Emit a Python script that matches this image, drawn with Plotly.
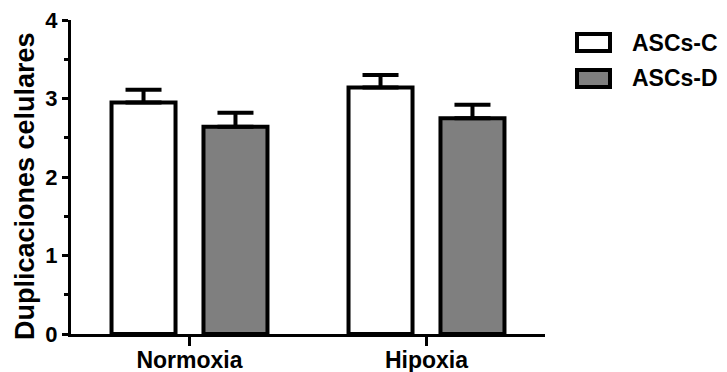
import plotly.graph_objects as go

# Data
categories = ["Normoxia", "Hipoxia"]
series_names = ["ASCs-C", "ASCs-D"]
ascs_c = [2.95, 3.14]
ascs_c_err = [0.16, 0.16]
ascs_d = [2.64, 2.75]
ascs_d_err = [0.18, 0.17]
y_ticks = [0, 1, 2, 3, 4]

FONT = "Liberation Sans, Arial, sans-serif"
fills = ["#ffffff", "#7f7f7f"]

fig = go.Figure()
for name, vals, errs, fill in zip(series_names, [ascs_c, ascs_d], [ascs_c_err, ascs_d_err], fills):
    fig.add_trace(go.Bar(
        x=categories, y=vals, name=name,
        marker=dict(color=fill, line=dict(color="black", width=4)),
        error_y=dict(type="data", array=errs, arrayminus=[0] * len(errs), symmetric=False,
                     color="black", thickness=4, width=18),
        showlegend=False,
    ))

L, R, T, B = 71, 182, 20, 38
W, H = 727, 372
pw, ph = W - L - R, H - T - B

def px_x(p):
    return (p - L) / pw

def px_y(p):
    return (H - B - p) / ph

fig.update_layout(
    width=W, height=H,
    autosize=False,
    margin=dict(l=L, r=R, t=T, b=B, pad=0, autoexpand=False),
    paper_bgcolor="white", plot_bgcolor="white",
    barmode="group", bargap=0.224, bargroupgap=0.304,
    font=dict(family=FONT, color="black"),
    xaxis=dict(
        range=[-0.5, 1.5], showline=True, linecolor="black", linewidth=3,
        ticks="outside", ticklen=9, tickwidth=3, tickcolor="black",
        ticklabelstandoff=-6,
        tickfont=dict(family=FONT, size=23, color="black", weight="bold"),
        showgrid=False, zeroline=False, automargin=False,
    ),
    yaxis=dict(
        range=[0, 4], tickvals=y_ticks, showline=True, linecolor="black", linewidth=3,
        ticks="outside", ticklen=6, tickwidth=3, tickcolor="black",
        tickfont=dict(family=FONT, size=22, color="black", weight="bold"),
        minor=dict(dtick=0.5, ticks="outside", ticklen=4, tickwidth=3, tickcolor="black", showgrid=False),
        showgrid=False, zeroline=False, automargin=False,
    ),
    showlegend=False,
)

# Y-axis title
fig.add_annotation(
    text="Duplicaciones celulares", xref="paper", yref="paper",
    x=px_x(25), y=px_y(186), xanchor="center", yanchor="middle",
    textangle=-90, showarrow=False,
    font=dict(family=FONT, size=27, color="black", weight="bold"),
)

# Custom legend
legend_boxes = [(34, 51, 42.5), (70, 87, 77.5)]
for (y0, y1, yc), name, fill in zip(legend_boxes, series_names, fills):
    fig.add_shape(type="rect", xref="paper", yref="paper",
                  x0=px_x(577), x1=px_x(610), y0=px_y(y1), y1=px_y(y0),
                  line=dict(color="black", width=4), fillcolor=fill)
    fig.add_annotation(text=name, xref="paper", yref="paper",
                       x=px_x(630), y=px_y(yc), xanchor="left", yanchor="middle",
                       showarrow=False,
                       font=dict(family=FONT, size=23, color="black", weight="bold"))

fig.write_html("out.html", config={"displayModeBar": False},
               post_script="document.body.style.margin='0';document.body.style.overflow='hidden';")
